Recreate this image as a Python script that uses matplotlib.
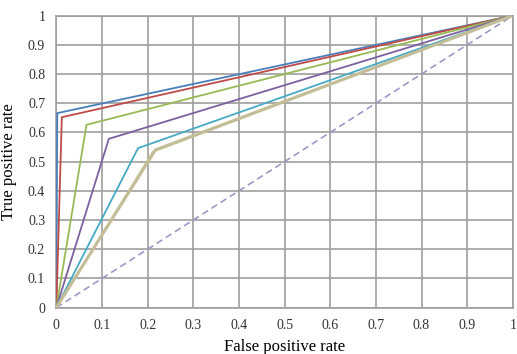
import matplotlib
matplotlib.use('Agg')
import matplotlib.pyplot as plt

# ROC operating points (fpr, tpr) for each curve
fpr_points = [0.002, 0.012, 0.066, 0.115, 0.179, 0.212, 0.217]
tpr_points = [0.666, 0.652, 0.626, 0.578, 0.546, 0.534, 0.540]
colors = ['#4a7ebb', '#be4b48', '#98b954', '#7d60a0', '#46aac5', '#b5cf8a', '#c4bd97']
widths = [1.3, 1.3, 1.3, 1.3, 1.3, 1.3, 2.2]

ticks = [0, 0.1, 0.2, 0.3, 0.4, 0.5, 0.6, 0.7, 0.8, 0.9, 1]
tick_labels = ['0', '0.1', '0.2', '0.3', '0.4', '0.5', '0.6', '0.7', '0.8', '0.9', '1']

plt.rcParams['font.family'] = ['Liberation Serif', 'DejaVu Serif']

fig = plt.figure(figsize=(5.17, 3.54), dpi=100)
ax = fig.add_axes([0.109, 0.131, 0.883, 0.825])

# Grid
for t in ticks:
    ax.axvline(t, color='#9e9e9e', linewidth=1.2, zorder=1)
    ax.axhline(t, color='#9e9e9e', linewidth=1.2, zorder=1)

# Chance line
ax.plot([0, 1], [0, 1], color='#9c98c8', linestyle='--', linewidth=1.2, dashes=(4, 2.5), zorder=2)

# ROC curves
for f, t, c, w in zip(fpr_points, tpr_points, colors, widths):
    ax.plot([0, f, 1], [0, t, 1], color=c, linewidth=w, zorder=3)

ax.set_xlim(0, 1)
ax.set_ylim(0, 1)
ax.set_xticks(ticks)
ax.set_yticks(ticks)
ax.set_xticklabels(tick_labels, fontsize=10)
ax.set_yticklabels(tick_labels, fontsize=10)
ax.tick_params(length=0, pad=8, colors='#333333')
for s in ax.spines.values():
    s.set_color('#9e9e9e')
    s.set_linewidth(1.2)

ax.set_xlabel('False positive rate', fontsize=12, labelpad=5)
ax.set_ylabel('True positive rate', fontsize=12, labelpad=8)

plt.savefig('out.png', dpi=100)
plt.close()
